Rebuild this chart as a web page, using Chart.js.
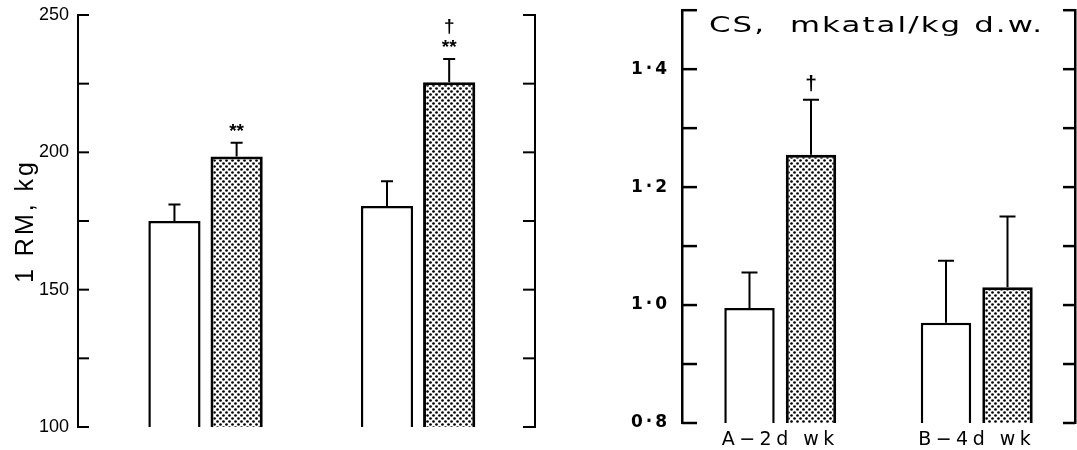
<!DOCTYPE html>
<html>
<head>
<meta charset="utf-8">
<script src="https://cdn.jsdelivr.net/npm/chart.js@4"></script>
<style>
  body { margin: 0; background: #fff; }
  canvas { position: absolute; top: 0; }
  #rm { left: 0; }
  #cs { left: 580px; }
</style>
</head>
<body>
<canvas id="rm" width="545" height="450"></canvas>
<canvas id="cs" width="497" height="450"></canvas>
<script>
const groups = ['A\u22122d wk', 'B\u22124d wk'];

// left panel: 1 RM, kg
const rmBefore = [175, 180.5];
const rmBeforeErr = [6, 9];
const rmAfter = [198.5, 225.5];
const rmAfterErr = [5, 8.5];
const rmAfterMarks = ['**', '\u2020\n**'];
const rmLabels = [100, 150, 200, 250];

// right panel: CS, mkatal/kg d.w.
const csBefore = [0.995, 0.97];
const csBeforeErr = [0.06, 0.105];
const csAfter = [1.255, 1.03];
const csAfterErr = [0.093, 0.12];
const csAfterMarks = ['\u2020', ''];
const csLabels = [0.8, 1.0, 1.2, 1.4];

function dots() {
  const c = document.createElement('canvas');
  c.width = 6; c.height = 6;
  const g = c.getContext('2d');
  g.fillStyle = '#fff';
  g.fillRect(0, 0, 6, 6);
  g.fillStyle = '#000';
  [[1.5, 1.5], [4.5, 4.5]].forEach(([x, y]) => {
    g.beginPath(); g.arc(x, y, 1.35, 0, Math.PI * 2); g.fill();
  });
  return g.createPattern(c, 'repeat');
}

// letter spacing for a scale's text (labels or title)
function spaced(method, spacing) {
  return function (scale) {
    const key = '_sp_' + method;
    if (scale[key]) return;
    const orig = scale[method].bind(scale);
    scale[method] = function (...args) {
      scale.ctx.save();
      scale.ctx.letterSpacing = spacing;
      orig(...args);
      scale.ctx.restore();
    };
    scale[key] = true;
  };
}

// tick marks pointing into the plot
const inTicks = {
  id: 'inTicks',
  afterDraw(chart, args, opts) {
    const ctx = chart.ctx;
    ctx.save();
    ctx.strokeStyle = '#000';
    ctx.lineWidth = opts.width;
    ['y', 'y2'].forEach(id => {
      const s = chart.scales[id];
      const left = s.position === 'left';
      const x0 = left ? s.right : s.left;
      const len = left ? opts.left : -opts.right;
      s.ticks.forEach(t => {
        const y = s.getPixelForValue(t.value);
        ctx.beginPath(); ctx.moveTo(x0, y); ctx.lineTo(x0 + len, y); ctx.stroke();
      });
    });
    ctx.restore();
  }
};

const errorBars = {
  id: 'errorBars',
  afterDatasetsDraw(chart, args, opts) {
    const ctx = chart.ctx, ys = chart.scales.y;
    ctx.save();
    ctx.strokeStyle = '#000';
    ctx.fillStyle = '#000';
    ctx.lineWidth = 2;
    chart.data.datasets.forEach((ds, i) => {
      chart.getDatasetMeta(i).data.forEach((bar, j) => {
        const v = typeof ds.data[j] === 'object' ? ds.data[j].y : ds.data[j];
        const top = ys.getPixelForValue(v + ds.errors[j]);
        ctx.beginPath();
        ctx.moveTo(bar.x, bar.y); ctx.lineTo(bar.x, top);
        ctx.moveTo(bar.x - opts.cap, top); ctx.lineTo(bar.x + opts.cap, top);
        ctx.stroke();
        const marks = ds.marks && ds.marks[j] ? ds.marks[j].split('\n').reverse() : [];
        ctx.font = opts.font;
        ctx.textAlign = 'center';
        ctx.textBaseline = 'middle';
        marks.forEach((m, k) => ctx.fillText(m, bar.x, top - opts.gap - k * opts.step));
      });
    });
    ctx.restore();
  }
};

const panelTitle = {
  id: 'panelTitle',
  afterDraw(chart, args, opts) {
    if (!opts.text) return;
    const ctx = chart.ctx, a = chart.chartArea;
    ctx.save();
    ctx.font = opts.font;
    ctx.letterSpacing = opts.spacing;
    ctx.fillStyle = '#000';
    ctx.translate(a.left + opts.dx, a.top + opts.dy);
    ctx.scale(opts.stretch, 1);
    ctx.fillText(opts.text, 0, 0);
    ctx.restore();
  }
};

const pattern = dots();
const black = '#000';
const clear = 'rgba(0,0,0,0)';

new Chart(document.getElementById('rm'), {
  type: 'bar',
  data: {
    datasets: [
      { label: 'before', data: rmBefore.map((y, i) => ({ x: i, y })), errors: rmBeforeErr,
        backgroundColor: '#fff', borderColor: black, borderWidth: 2.5, borderSkipped: false },
      { label: 'after', data: rmAfter.map((y, i) => ({ x: i, y })), errors: rmAfterErr, marks: rmAfterMarks,
        backgroundColor: pattern, borderColor: black, borderWidth: 3, borderSkipped: false }
    ]
  },
  options: {
    responsive: false,
    devicePixelRatio: 1,
    animation: false,
    categoryPercentage: 0.585,
    barPercentage: 0.84,
    layout: { padding: { top: 15, bottom: 23, left: 0, right: 10 } },
    plugins: {
      legend: { display: false },
      tooltip: { enabled: false },
      inTicks: { left: 11, right: 12, width: 2 },
      errorBars: { cap: 6, font: 'bold 19px "Liberation Sans"', gap: 11, step: 21 }
    },
    scales: {
      x: {
        type: 'linear', display: false, offset: false, bounds: 'data',
        min: -0.6, max: 1.55,
        ticks: { stepSize: 1, includeBounds: false }
      },
      y: {
        min: 100, max: 250,
        afterFit: s => { s.width = 78; },
        afterUpdate: spaced('drawTitle', '3px'),
        grid: { drawOnChartArea: false, drawTicks: true, tickLength: 9, tickColor: clear },
        border: { display: true, color: black, width: 2 },
        ticks: {
          stepSize: 25, padding: 0, color: black,
          font: { family: 'Liberation Sans', size: 18 },
          callback: v => rmLabels.includes(v) ? String(v) : ''
        },
        title: {
          display: true, text: '1 RM, kg', color: black,
          font: { family: 'Liberation Sans', size: 25 },
          padding: { top: 11, bottom: 0 }
        }
      },
      y2: {
        position: 'right',
        min: 100, max: 250,
        afterFit: s => { s.width = 0; },
        grid: { drawOnChartArea: false, drawTicks: false },
        border: { display: true, color: black, width: 2 },
        ticks: { display: false, stepSize: 25 }
      }
    }
  },
  plugins: [inTicks, errorBars]
});

new Chart(document.getElementById('cs'), {
  type: 'bar',
  data: {
    labels: groups,
    datasets: [
      { label: 'before', data: csBefore, errors: csBeforeErr,
        backgroundColor: '#fff', borderColor: black, borderWidth: 2.5, borderSkipped: false },
      { label: 'after', data: csAfter, errors: csAfterErr, marks: csAfterMarks,
        backgroundColor: pattern, borderColor: black, borderWidth: 3, borderSkipped: false }
    ]
  },
  options: {
    responsive: false,
    devicePixelRatio: 1,
    animation: false,
    categoryPercentage: 0.626,
    barPercentage: 0.82,
    layout: { padding: { top: 10, bottom: 0, left: 0, right: 2 } },
    plugins: {
      legend: { display: false },
      tooltip: { enabled: false },
      inTicks: { left: 15, right: 12, width: 2.5 },
      errorBars: { cap: 8, font: 'bold 21px "Liberation Sans"', gap: 16, step: 18 },
      panelTitle: { text: 'CS,  mkatal/kg d.w.', font: '22px "DejaVu Sans"',
        spacing: '1.5px', stretch: 1.4, dx: 27, dy: 22 }
    },
    scales: {
      x: {
        afterFit: s => { s.height = 27; },
        afterUpdate: spaced('drawLabels', '4.5px'),
        grid: { display: false, drawTicks: false },
        border: { display: false },
        ticks: { padding: 6, color: black, font: { family: 'DejaVu Sans', size: 19 } }
      },
      y: {
        min: 0.8, max: 1.5,
        afterFit: s => { s.width = 102; },
        afterUpdate: spaced('drawLabels', '3px'),
        grid: { drawOnChartArea: false, drawTicks: true, tickLength: 12, tickColor: clear },
        border: { display: true, color: black, width: 2.5 },
        ticks: {
          stepSize: 0.1, padding: 0, color: black,
          font: { family: 'DejaVu Sans', size: 17, weight: 'bold' },
          callback: v => csLabels.some(l => Math.abs(l - v) < 1e-6) ? v.toFixed(1).replace('.', '\u00b7') : ''
        }
      },
      y2: {
        position: 'right',
        min: 0.8, max: 1.5,
        afterFit: s => { s.width = 0; },
        grid: { drawOnChartArea: false, drawTicks: false },
        border: { display: true, color: black, width: 2.5 },
        ticks: { display: false, stepSize: 0.1 }
      }
    }
  },
  plugins: [inTicks, errorBars, panelTitle]
});
</script>
</body>
</html>
